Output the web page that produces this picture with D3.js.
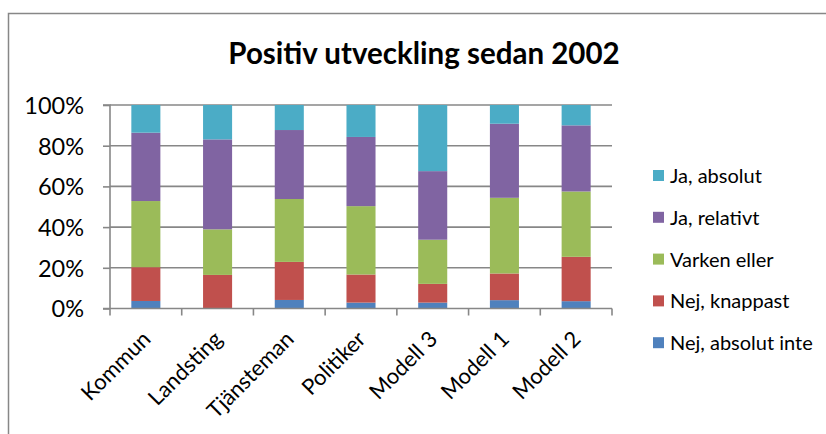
<!DOCTYPE html>
<html>
<head>
<meta charset="utf-8">
<script src="https://cdn.jsdelivr.net/npm/d3@7"></script>
<style>
  html, body { margin: 0; padding: 0; background: #fff; }
  svg { display: block; }
  text { font-family: Lato, "Open Sans", sans-serif; fill: #000; }
</style>
</head>
<body>
<svg id="chart" width="826" height="434"></svg>
<script>
// ---- data ----
const categories = ["Kommun", "Landsting", "Tjänsteman", "Politiker", "Modell 3", "Modell 1", "Modell 2"];
const seriesNames = ["Nej, absolut inte", "Nej, knappast", "Varken eller", "Ja, relativt", "Ja, absolut"];
const nejAbsolutInte = [3.7, 0.0, 4.2, 2.9, 2.9, 4.1, 3.6];
const nejKnappast    = [16.6, 16.5, 18.7, 13.8, 9.2, 13.1, 21.8];
const varkenEller    = [32.5, 22.4, 30.9, 33.6, 21.7, 37.2, 32.1];
const jaRelativt     = [33.6, 44.2, 33.9, 34.0, 33.7, 36.4, 32.5];
const jaAbsolut      = [13.6, 16.9, 12.3, 15.7, 32.5, 9.2, 10.0];
const yTicks = [0, 20, 40, 60, 80, 100];
const titleText = "Positiv utveckling sedan 2002";
const colors = ["#4F81BD", "#C0504D", "#9BBB59", "#8064A2", "#4BACC6"];

const seriesValues = [nejAbsolutInte, nejKnappast, varkenEller, jaRelativt, jaAbsolut];
const rows = categories.map((c, i) => {
  const r = { cat: c };
  seriesNames.forEach((s, j) => r[s] = seriesValues[j][i]);
  return r;
});

const svg = d3.select("#chart");
const gray = "#878787";

// outer border (chart area, extends past the image)
svg.append("rect").attr("x", 8.5).attr("y", 13.5).attr("width", 900).attr("height", 500)
  .attr("fill", "none").attr("stroke", gray).attr("stroke-width", 1.5);

const plot = { left: 110, right: 612, top: 105, bottom: 308.5 };
const x = d3.scaleBand().domain(categories).range([plot.left, plot.right]).paddingInner(0.595).paddingOuter(0.2975);
const xb = d3.scaleBand().domain(categories).range([plot.left, plot.right]);
const y = d3.scaleLinear().domain([0, 100]).range([plot.bottom, plot.top]);

// gridlines
svg.append("g").selectAll("line").data(yTicks.filter(d => d > 0)).join("line")
  .attr("x1", plot.left).attr("x2", plot.right)
  .attr("y1", d => y(d)).attr("y2", d => y(d))
  .attr("stroke", gray).attr("stroke-width", 1.6);

// stacked bars
const stack = d3.stack().keys(seriesNames)(rows);
svg.append("g").selectAll("g").data(stack).join("g")
  .attr("fill", (d, i) => colors[i])
  .selectAll("rect").data(d => d).join("rect")
  .attr("x", d => x(d.data.cat))
  .attr("width", x.bandwidth())
  .attr("y", d => y(d[1]))
  .attr("height", d => Math.max(0, y(d[0]) - y(d[1])));

// y axis
const yAxis = d3.axisLeft(y).tickValues(yTicks).tickFormat(d => d + "%").tickSize(7).tickPadding(19);
const yg = svg.append("g").attr("transform", `translate(${plot.left},0)`).call(yAxis);
yg.select(".domain").attr("stroke", gray).attr("stroke-width", 1.6).attr("d", `M-7,${plot.top}H0V${plot.bottom}`);
yg.selectAll(".tick line").attr("stroke", gray).attr("stroke-width", 1.6);
yg.selectAll(".tick text").style("font-size", "23.5px").attr("dy", "0.36em");

// x axis
const xg = svg.append("g").attr("transform", `translate(0,${plot.bottom})`);
xg.append("line").attr("x1", plot.left - 7).attr("x2", plot.right).attr("y1", 0).attr("y2", 0)
  .attr("stroke", gray).attr("stroke-width", 1.6);
const bounds = categories.map(c => xb(c)).concat([plot.right]);
xg.selectAll("line.tk").data(bounds).join("line").attr("class", "tk")
  .attr("x1", d => d).attr("x2", d => d).attr("y1", 0).attr("y2", 7)
  .attr("stroke", gray).attr("stroke-width", 1.6);
xg.selectAll("text").data(categories).join("text")
  .attr("text-anchor", "end")
  .style("font-size", "22px")
  .attr("transform", d => `translate(${xb(d) + xb.bandwidth() / 2 + 6},${32}) rotate(-45)`)
  .text(d => d);

// title
svg.append("text").attr("x", 424).attr("y", 64).attr("text-anchor", "middle")
  .style("font-size", "29.5px").style("font-weight", "bold").text(titleText);

// legend (reverse order, top = Ja, absolut)
const legendItems = seriesNames.map((s, i) => ({ s, c: colors[i] })).reverse();
const lg = svg.append("g");
const lgi = lg.selectAll("g").data(legendItems).join("g")
  .attr("transform", (d, i) => `translate(653,${176 + i * 41.8})`);
lgi.append("rect").attr("x", 0).attr("y", -6).attr("width", 11).attr("height", 11).attr("fill", d => d.c);
lgi.append("text").attr("x", 17).attr("y", 0).attr("dy", "0.35em").style("font-size", "20px").text(d => d.s);
</script>
</body>
</html>
